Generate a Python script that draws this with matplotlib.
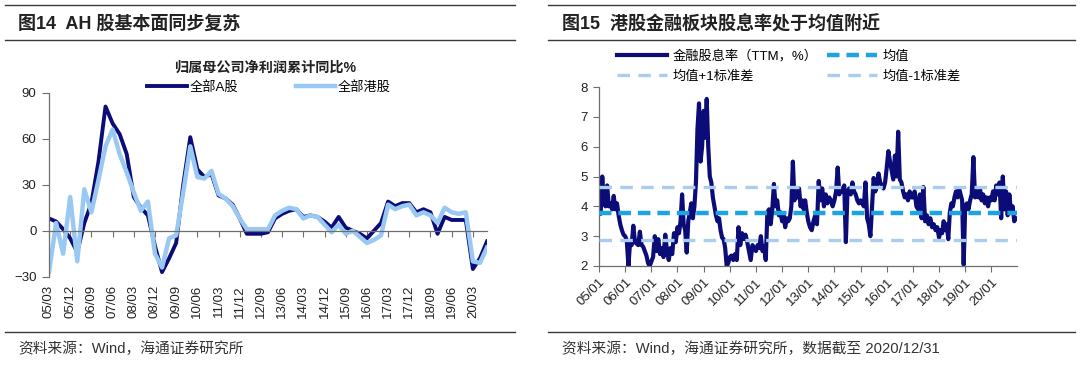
import numpy as np
import matplotlib
matplotlib.use("Agg")
import matplotlib.pyplot as plt
from matplotlib.lines import Line2D

plt.rcParams['font.family'] = ['Liberation Sans', 'Noto Sans CJK SC', 'DejaVu Sans']
plt.rcParams['lines.scale_dashes'] = False

W, H = 1080, 365

# ---- 图14: 归属母公司净利润累计同比 (季度, 2005Q1 - 2020Q3) ----
a_share = [8, 6, 1, -5, -14, 5, 18, 45, 81, 70, 63, 50, 22, 15, 10, -10,
           -27, -18, -8, 30, 61, 40, 35, 37, 23, 21, 17, 8, -2, -2, -2, -1,
           8, 11, 13, 14, 9, 10, 9, 6, 2, 9, 2, 0, -2, -5, 0, 5,
           19, 16, 18, 18, 12, 14, 12, -2, 9, 7, 7, 7, -25, -18, -7]
hk_share = [-27, 5, -15, 22, -20, 27, 12, 33, 55, 66, 50, 38, 25, 13, 19, -15,
            -24, -5, -3, 25, 55, 35, 34, 39, 24, 21, 16, 8, 1, 1, 1, 1,
            10, 13, 15, 14, 8, 10, 9, 4, -1, 4, -2, 0, -4, -8, -6, -3,
            17, 14, 16, 17, 10, 12, 10, 5, 15, 12, 11, 12, -20, -21, -11]
left_ticklabels = ['05/03', '05/12', '06/09', '07/06', '08/03', '08/12', '09/09',
                   '10/06', '11/03', '11/12', '12/09', '13/06', '14/03', '14/12',
                   '15/09', '16/06', '17/03', '17/12', '18/09', '19/06', '20/03']

# ---- 图15: 港股金融板块股息率 (TTM, %), 按年读取 ----
dy_2005 = [3.8, 3.75, 5.0, 4.1, 4.0, 4.7, 4.0, 4.1, 3.9, 4.35, 3.9, 4.1, 3.7, 3.4, 3.2, 3.05]
dy_2006 = [3.0, 2.85, 2.0, 2.8, 2.7, 3.35, 2.8, 2.75, 2.7, 3.15, 2.7, 2.65, 2.5, 2.35, 2.1, 2.0]
dy_2007 = [2.15, 2.3, 3.0, 2.5, 2.9, 2.4, 2.6, 2.3, 3.05, 2.5, 2.2, 2.6, 2.4, 3.1, 2.8]
dy_2008 = [3.3, 3.1, 3.5, 4.4, 3.4, 3.2, 2.45, 3.5, 3.8, 4.1, 3.6, 4.0, 4.8, 6.6, 7.45, 5.5, 6.0]
dy_2009 = [7.2, 6.3, 7.6, 6.0, 5.0, 4.8, 4.3, 4.0, 3.7, 3.5, 3.6, 3.2, 2.95, 2.9, 2.6, 2.0, 2.1]
dy_2010 = [2.3, 2.35, 2.2, 2.4, 2.2, 3.3, 2.7, 3.1, 2.9, 3.05, 2.8, 2.5, 2.2, 2.7, 2.6]
dy_2011 = [2.5, 2.7, 2.6, 3.0, 2.5, 2.65, 2.2, 3.8, 3.9, 3.4, 3.9, 4.75, 4.0, 4.2, 3.7, 3.8]
dy_2012 = [3.5, 3.7, 3.3, 3.6, 3.5, 3.6, 4.0, 5.5, 4.2, 4.5, 4.3, 4.6, 4.0, 4.2, 3.9, 4.2, 3.8]
dy_2013 = [3.5, 3.3, 3.2, 3.5, 3.7, 3.4, 4.85, 4.2, 4.6, 4.0, 4.4, 4.1, 4.3, 4.2, 4.0]
dy_2014 = [4.2, 4.5, 5.3, 4.4, 4.6, 4.5, 4.7, 2.8, 4.5, 4.6, 4.4, 4.8, 4.5, 4.4, 4.2, 4.1]
dy_2015 = [4.2, 4.1, 4.0, 4.8, 3.6, 3.4, 3.0, 4.0, 4.95, 4.5, 4.7, 5.1, 4.8, 4.7, 4.6, 4.8]
dy_2016 = [5.3, 5.85, 5.5, 5.2, 4.9, 5.7, 5.0, 6.5, 4.9, 4.8, 4.5, 4.3, 4.4, 4.2, 4.5, 4.3]
dy_2017 = [4.3, 4.5, 4.0, 3.9, 4.4, 3.6, 4.65, 3.5, 3.7, 3.4, 3.6, 3.3, 3.4, 3.2, 3.3]
dy_2018 = [2.95, 3.2, 3.1, 3.5, 3.2, 3.4, 2.9, 3.8, 4.1, 4.0, 4.3, 4.5, 4.3, 4.6, 4.4, 4.2, 2.05]
dy_2019 = [4.0, 4.1, 3.9, 4.2, 4.4, 5.65, 4.3, 4.5, 4.3, 4.6, 4.2, 4.4, 4.1, 4.3, 4.0, 4.3]
dy_2020 = [4.2, 4.5, 4.2, 4.7, 4.4, 4.8, 3.6, 5.0, 3.9, 4.5, 3.7, 4.4, 3.8, 4.0, 3.5, 3.6]
dy_mean = 3.76
dy_upper = 4.64
dy_lower = 2.88
right_years = list(range(2005, 2021))
right_ticklabels = [f"{y % 100:02d}/01" for y in right_years]

DARK = '#0c0c78'
LIGHT = '#99c9f2'
MID = '#1ea3e2'
BAND = '#a8cdee'
GRAY = '#6e6e6e'

fig = plt.figure(figsize=(W / 100, H / 100), dpi=100)


def fx(px):
    return px / W


def fy(py):
    return 1 - py / H


# 标题栏和底部横线
for x0, x1 in [(5, 515), (548, 1075)]:
    for py in (5, 40, 332):
        fig.add_artist(Line2D([fx(x0), fx(x1)], [fy(py), fy(py)], color='#3a3a3a', lw=1.0))

fig.text(fx(18), fy(24), '图14  AH 股基本面同步复苏', fontsize=13, fontweight='bold',
         va='center', color='#222222')
fig.text(fx(562), fy(24), '图15  港股金融板块股息率处于均值附近', fontsize=13,
         fontweight='bold', va='center', color='#222222')
fig.text(fx(18), fy(349), '资料来源：Wind，海通证券研究所', fontsize=10.6,
         va='center', color='#333333')
fig.text(fx(562), fy(349), '资料来源：Wind，海通证券研究所，数据截至 2020/12/31',
         fontsize=10.6, va='center', color='#333333')

# ---------------- 左图 ----------------
ax1 = fig.add_axes([fx(49), fy(276.7), fx(438), 184 / H])
q = np.arange(len(a_share))
l1, = ax1.plot(q, a_share, color=DARK, lw=2.8, solid_joinstyle='round', label='全部A股')
l2, = ax1.plot(q, hk_share, color=LIGHT, lw=3.2, solid_joinstyle='round', label='全部港股')
ax1.set_xlim(0, len(a_share) - 1)
ax1.set_ylim(-30, 90)
ax1.set_yticks([-30, 0, 30, 60, 90])
for s in ('top', 'right'):
    ax1.spines[s].set_visible(False)
ax1.spines['bottom'].set_position(('data', 0))
for s in ('bottom', 'left'):
    ax1.spines[s].set_color(GRAY)
    ax1.spines[s].set_linewidth(0.9)
ax1.set_xticks(np.arange(0, len(a_share), 3))
ax1.tick_params(axis='x', labelbottom=False, direction='out', length=4, color=GRAY)
ax1.tick_params(axis='y', direction='out', length=5, color=GRAY, labelsize=9.5,
                labelcolor='#222222', pad=4)
sec = ax1.secondary_xaxis(0.0)
sec.set_xticks(np.arange(0, len(a_share), 3), labels=left_ticklabels)
sec.tick_params(length=0, pad=6, labelsize=9.5, labelrotation=90, labelcolor='#222222')
sec.spines['bottom'].set_visible(False)

fig.text(fx(265), fy(68), '归属母公司净利润累计同比%', fontsize=10.2, fontweight='bold',
         ha='center', va='center', color='#222222')
fig.legend(handles=[l1, l2], loc='center left', bbox_to_anchor=(fx(147), fy(87)),
           ncol=2, frameon=False, fontsize=9.5, handlelength=3.0, handletextpad=0.2,
           columnspacing=4.4, borderpad=0, borderaxespad=0)

# ---------------- 右图 ----------------
ax2 = fig.add_axes([fx(599), fy(266), fx(418), 179 / H])
dy_years = [dy_2005, dy_2006, dy_2007, dy_2008, dy_2009, dy_2010, dy_2011, dy_2012,
            dy_2013, dy_2014, dy_2015, dy_2016, dy_2017, dy_2018, dy_2019, dy_2020]
xs, ys = [], []
for year, vals in zip(right_years, dy_years):
    xs.extend(year + np.arange(len(vals)) / len(vals))
    ys.extend(vals)
xs.append(2020.98)
ys.append(dy_2020[-1])
ln, = ax2.plot(xs, ys, color=DARK, lw=3.0, solid_joinstyle='round', zorder=2,
               label='金融股息率（TTM，%）')
lm = ax2.axhline(dy_mean, color=MID, lw=3.2, dashes=(9, 5), zorder=3, label='均值')
lu = ax2.axhline(dy_upper, color=BAND, lw=2.4, dashes=(9, 6), zorder=3, label='均值+1标准差')
ld = ax2.axhline(dy_lower, color=BAND, lw=2.4, dashes=(9, 6), zorder=3, label='均值-1标准差')
ax2.set_xlim(2005, 2020.98)
ax2.set_ylim(2, 8)
ax2.set_yticks(range(2, 9))
ax2.set_xticks(right_years, labels=right_ticklabels)
for s in ('top', 'right'):
    ax2.spines[s].set_visible(False)
for s in ('bottom', 'left'):
    ax2.spines[s].set_color(GRAY)
    ax2.spines[s].set_linewidth(0.9)
ax2.tick_params(axis='both', direction='out', length=4, color=GRAY, labelsize=9.5,
                labelcolor='#222222')
ax2.tick_params(axis='y', pad=4)
for lab in ax2.get_xticklabels():
    lab.set_rotation(45)
    lab.set_ha('right')
    lab.set_rotation_mode('anchor')

fig.legend(handles=[ln, lu, lm, ld], loc='upper left', bbox_to_anchor=(fx(617), fy(50)),
           ncol=2, frameon=False, fontsize=9.5, handlelength=3.8, handletextpad=0.4,
           columnspacing=0.7, labelspacing=0.6, borderpad=0, borderaxespad=0)

fig.savefig('out.png', dpi=100)
